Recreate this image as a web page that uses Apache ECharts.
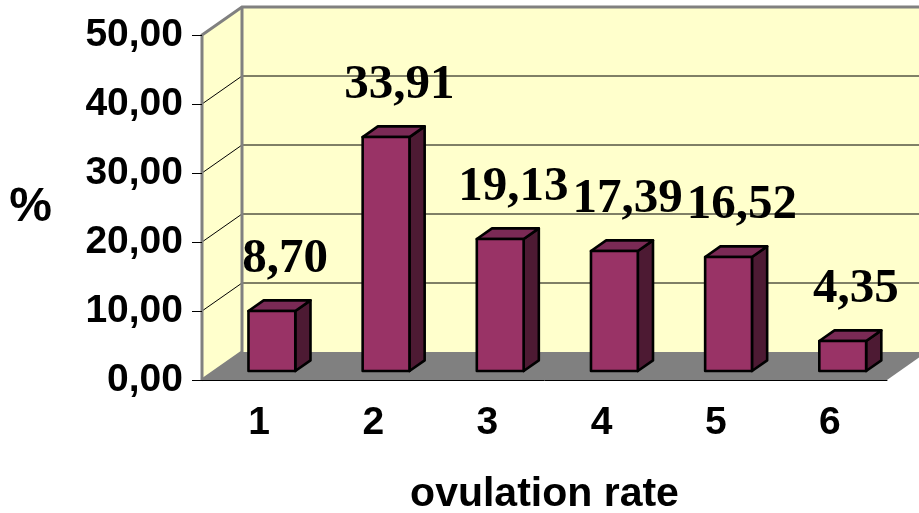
<!DOCTYPE html>
<html>
<head>
<meta charset="utf-8">
<script src="https://cdn.jsdelivr.net/npm/echarts@6/dist/echarts.min.js"></script>
<style>
  html, body { margin: 0; padding: 0; background: #fff; }
  #chart { width: 919px; height: 513px; }
</style>
</head>
<body>
<div id="chart"></div>
<script>
var categories = ['1', '2', '3', '4', '5', '6'];
var percentValues = [8.70, 33.91, 19.13, 17.39, 16.52, 4.35];
var yTicks = [0, 10, 20, 30, 40, 50];

// fake 3d: how far the back wall sits behind the front plane (px)
var DEPTH_X = 40, DEPTH_Y = 28;
var BAR_FRONT = 0.32, BAR_BACK = 0.7, BAR_WIDTH = 0.41;

function fmt (v) {
  return v.toFixed(2).replace('.', ',');
}

function shift (p, d) {
  return [p[0] + DEPTH_X * d, p[1] - DEPTH_Y * d];
}

function renderFrame (params, api) {
  var n = categories.length;
  var band = api.size([1, 0])[0];
  var left = api.coord([0, 0])[0] - band / 2;
  var right = api.coord([n - 1, 0])[0] + band / 2;
  var y0 = api.coord([0, yTicks[0]])[1];
  var yTop = api.coord([0, yTicks[yTicks.length - 1]])[1];
  var kids = [];
  // left wall + back wall
  kids.push({ type: 'polygon', shape: { points: [[left, y0], [left, yTop], shift([left, yTop], 1), shift([left, y0], 1)] }, style: { fill: '#FFFFCC' } });
  kids.push({ type: 'polygon', shape: { points: [shift([left, y0], 1), shift([left, yTop], 1), shift([right, yTop], 1), shift([right, y0], 1)] }, style: { fill: '#FFFFCC' } });
  // gridlines on both walls
  for (var i = 1; i < yTicks.length - 1; i++) {
    var y = api.coord([0, yTicks[i]])[1];
    kids.push({ type: 'polyline', shape: { points: [[left, y], shift([left, y], 1), shift([right, y], 1)] }, style: { stroke: '#000', lineWidth: 1, fill: null } });
  }
  // floor
  kids.push({ type: 'polygon', shape: { points: [[left, y0], [right, y0], shift([right, y0], 1), shift([left, y0], 1)] }, style: { fill: '#808080' } });
  // grey edges of the box
  kids.push({ type: 'polyline', shape: { points: [[left, y0], [left, yTop], shift([left, yTop], 1), shift([right, yTop], 1)] }, style: { stroke: '#808080', lineWidth: 3, fill: null } });
  kids.push({ type: 'polyline', shape: { points: [shift([left, yTop], 1), shift([left, y0], 1), [left, y0]] }, style: { stroke: '#808080', lineWidth: 3, fill: null } });
  return { type: 'group', children: kids };
}

function renderBar (params, api) {
  var i = api.value(0), v = api.value(1);
  var band = api.size([1, 0])[0];
  var half = band * BAR_WIDTH / 2;
  var c0 = api.coord([i, 0]), c1 = api.coord([i, v]);
  var fl = [c0[0] - half, c0[1]], fr = [c0[0] + half, c0[1]];
  var tl = [c0[0] - half, c1[1]], tr = [c0[0] + half, c1[1]];
  var a = BAR_FRONT, b = BAR_BACK;
  var line = { stroke: '#000', lineWidth: 2.6, lineJoin: 'round' };
  var anchor = shift([c0[0], c1[1]], 1);
  return {
    type: 'group',
    children: [
      { type: 'polygon', shape: { points: [shift(fr, a), shift(tr, a), shift(tr, b), shift(fr, b)] }, style: Object.assign({ fill: '#4D1A33' }, line) },
      { type: 'polygon', shape: { points: [shift(tl, a), shift(tl, b), shift(tr, b), shift(tr, a)] }, style: Object.assign({ fill: '#7A2A55' }, line) },
      { type: 'polygon', shape: { points: [shift(fl, a), shift(tl, a), shift(tr, a), shift(fr, a)] }, style: Object.assign({ fill: '#993366' }, line) },
      {
        type: 'text',
        x: anchor[0] - 14,
        y: anchor[1] - 33,
        style: {
          text: fmt(v),
          fill: '#000',
          font: 'bold 49px "Liberation Serif", "Times New Roman", serif',
          align: 'center',
          verticalAlign: 'middle'
        }
      }
    ]
  };
}

var chart = echarts.init(document.getElementById('chart'));
chart.setOption({
  animation: false,
  backgroundColor: '#fff',
  grid: { left: 202, right: 32, top: 35, bottom: 133, outerBoundsMode: 'none' },
  xAxis: {
    type: 'category',
    data: categories,
    z: 10,
    axisLine: { lineStyle: { color: '#000', width: 1 } },
    axisTick: { length: 10, interval: 0, lineStyle: { color: '#000' } },
    axisLabel: { color: '#000', fontSize: 39, fontWeight: 'bold', fontFamily: 'Liberation Sans', margin: 24 },
    name: 'ovulation rate',
    nameLocation: 'middle',
    nameGap: 94,
    nameTextStyle: { color: '#000', fontSize: 41, fontWeight: 'bold', fontFamily: 'Liberation Sans' }
  },
  yAxis: {
    type: 'value',
    min: yTicks[0],
    max: yTicks[yTicks.length - 1],
    interval: 10,
    z: 10,
    axisLine: { show: false },
    axisTick: { show: true, length: 10, lineStyle: { color: '#000' } },
    splitLine: { show: false },
    axisLabel: { color: '#000', fontSize: 39, fontWeight: 'bold', fontFamily: 'Liberation Sans', margin: 19, formatter: fmt },
    name: '%',
    nameLocation: 'middle',
    nameRotate: 0,
    nameGap: 150,
    nameTextStyle: { color: '#000', fontSize: 48, fontWeight: 'bold', fontFamily: 'Liberation Sans' }
  },
  series: [
    { type: 'custom', name: 'frame', renderItem: renderFrame, data: [[0, 0]], silent: true, z: 1 },
    {
      type: 'custom',
      name: 'ovulation rate %',
      renderItem: renderBar,
      data: percentValues.map(function (v, i) { return [i, v]; }),
      z: 3
    }
  ]
});
</script>
</body>
</html>
